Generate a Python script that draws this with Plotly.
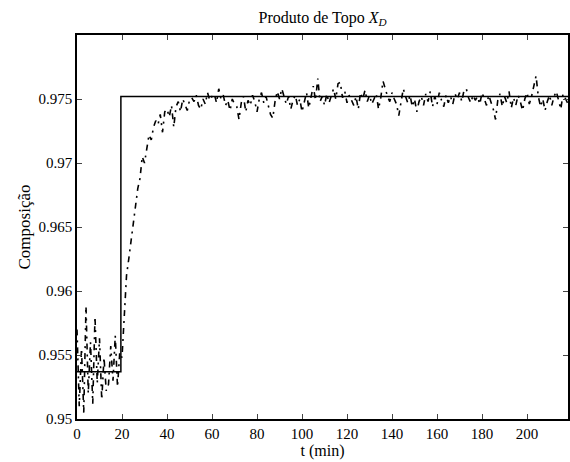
import plotly.graph_objects as go

# Time (min), 1-minute samples
t = list(range(0, 219))

xd = [
    0.9570, 0.9510, 0.9555, 0.9505, 0.9588, 0.9520, 0.9560, 0.9512, 0.9580, 0.9528,
    0.9563, 0.9515, 0.9548, 0.9522, 0.9527, 0.9557, 0.9530, 0.9565, 0.9525, 0.9552,
    0.9548,
    0.9580, 0.9612, 0.9625, 0.9640, 0.9650, 0.9668, 0.9680, 0.9688, 0.9705, 0.9700,
    0.9712, 0.9722, 0.9718, 0.9728, 0.9733, 0.9730, 0.9738, 0.9724, 0.9740, 0.9742,
    0.9736, 0.9745, 0.9728, 0.9744, 0.9748, 0.9740, 0.9750, 0.9746, 0.9741, 0.9749,
    0.9751, 0.9748, 0.9753, 0.9745, 0.9742, 0.9750, 0.9746, 0.9755, 0.9749, 0.9752,
    0.9754, 0.9747, 0.9758, 0.9750, 0.9753, 0.9745, 0.9749, 0.9741, 0.9750, 0.9746,
    0.9744, 0.9734, 0.9747, 0.9752, 0.9740, 0.9749, 0.9745, 0.9753, 0.9748, 0.9740,
    0.9750, 0.9755, 0.9747, 0.9752, 0.9745, 0.9738, 0.9735, 0.9748, 0.9756, 0.9750,
    0.9758, 0.9751, 0.9746, 0.9752, 0.9742, 0.9749, 0.9753, 0.9745, 0.9750, 0.9740,
    0.9748, 0.9755, 0.9743, 0.9751, 0.9760, 0.9749, 0.9766, 0.9748, 0.9752, 0.9745,
    0.9754, 0.9747, 0.9752, 0.9758, 0.9750, 0.9762, 0.9763, 0.9751, 0.9756, 0.9747,
    0.9753, 0.9749, 0.9745, 0.9752, 0.9742, 0.9755, 0.9750, 0.9757, 0.9748, 0.9753,
    0.9746, 0.9750, 0.9754, 0.9742, 0.9751, 0.9764, 0.9757, 0.9752, 0.9748, 0.9755,
    0.9750, 0.9746, 0.9737, 0.9749, 0.9758, 0.9752, 0.9747, 0.9753, 0.9744, 0.9750,
    0.9740, 0.9748, 0.9752, 0.9745, 0.9754, 0.9748, 0.9756, 0.9744, 0.9752, 0.9746,
    0.9755, 0.9749, 0.9744, 0.9753, 0.9747, 0.9752, 0.9746, 0.9754, 0.9750, 0.9755,
    0.9748, 0.9757, 0.9758, 0.9751, 0.9747, 0.9753, 0.9749, 0.9752, 0.9746, 0.9755,
    0.9750, 0.9745, 0.9753, 0.9748, 0.9742, 0.9734, 0.9749, 0.9754, 0.9744, 0.9752,
    0.9747, 0.9756, 0.9743, 0.9751, 0.9745, 0.9753, 0.9748, 0.9741, 0.9750, 0.9755,
    0.9746, 0.9752, 0.9760, 0.9768, 0.9752, 0.9744, 0.9750, 0.9741, 0.9748, 0.9753,
    0.9745, 0.9752, 0.9756, 0.9748, 0.9742, 0.9754, 0.9750, 0.9747,
]

# Setpoint (step)
t_sp = [0, 19.5, 19.5, 218.2]
sp = [0.9537, 0.9537, 0.9752, 0.9752]

x_ticks = [0, 20, 40, 60, 80, 100, 120, 140, 160, 180, 200]
y_ticks = [0.95, 0.955, 0.96, 0.965, 0.97, 0.975]
y_tick_text = ["0.95", "0.955", "0.96", "0.965", "0.97", "0.975"]

fig = go.Figure()
fig.add_trace(go.Scatter(x=t, y=xd, mode="lines",
                         line=dict(color="black", width=1.6, dash="6px,5px,2px,5px"),
                         showlegend=False))
fig.add_trace(go.Scatter(x=t_sp, y=sp, mode="lines",
                         line=dict(color="black", width=1.5),
                         showlegend=False))

font = "Liberation Serif"
fig.update_layout(
    width=570, height=462,
    margin=dict(l=77, r=2, t=35, b=43),
    paper_bgcolor="white", plot_bgcolor="white",
    font=dict(family=font, color="black", size=15),
    title=dict(text="Produto de Topo <i>X</i><sub><i>D</i></sub>",
               x=0.566, xanchor="center", y=0.975, yanchor="top",
               font=dict(size=16, family=font, color="black")),
)
fig.update_xaxes(range=[0, 218.2], tickvals=x_ticks, ticks="inside", ticklen=5,
                 showline=True, linecolor="black", linewidth=1.5, mirror="ticks",
                 showgrid=False, zeroline=False, automargin=False,
                 title=dict(text="t (min)", standoff=0,
                            font=dict(size=16, family=font, color="black")),
                 tickfont=dict(size=15, family=font, color="black"))
fig.update_yaxes(range=[0.95, 0.98], tickvals=y_ticks, ticktext=y_tick_text,
                 ticks="inside", ticklen=5,
                 showline=True, linecolor="black", linewidth=1.5, mirror="ticks",
                 showgrid=False, zeroline=False, automargin=False,
                 title=dict(text="Composição", standoff=4,
                            font=dict(size=17, family=font, color="black")),
                 tickfont=dict(size=15, family=font, color="black"))

fig.write_html(
    "out.html",
    config={"displayModeBar": False},
    post_script="document.body.style.margin='0px';document.body.style.overflow='hidden';",
)
